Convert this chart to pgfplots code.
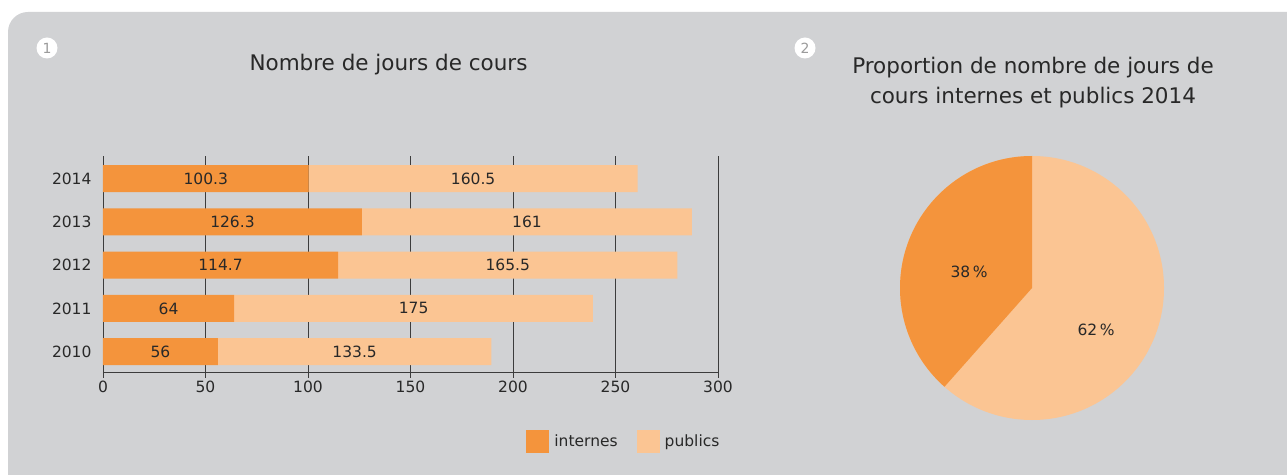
\documentclass[border=0pt]{standalone}
\usepackage{pgfplots}
\pgfplotsset{compat=1.18}
\usepackage{fontspec}
\setmainfont{DejaVu Sans}
\definecolor{bg}{RGB}{209,210,212}
\definecolor{internes}{RGB}{244,148,60}
\definecolor{publics}{RGB}{251,197,147}
\definecolor{txt}{RGB}{40,40,40}
\definecolor{gridc}{RGB}{60,60,60}
\definecolor{badge}{RGB}{155,155,155}
\begin{document}
\begin{tikzpicture}
\useasboundingbox (0pt,0pt) rectangle (1287pt,474pt);
\fill[white] (0pt,0pt) rectangle (1287pt,474pt);
\begin{scope}
\clip (0pt,0pt) rectangle (1287pt,474pt);
\fill[bg, rounded corners=20pt] (8pt,-40pt) rectangle (1340pt,462pt);
\end{scope}
% badges
\fill[white] (47pt,426pt) circle (10.5pt);
\node[text=badge, font=\fontsize{14}{16}\selectfont] at (47pt,426pt) {1};
\fill[white] (805pt,426pt) circle (10.5pt);
\node[text=badge, font=\fontsize{14}{16}\selectfont] at (805pt,426pt) {2};
% titles
\node[text=txt, font=\fontsize{21.5}{25}\selectfont] at (388.5pt,409pt) {Nombre de jours de cours};
\node[text=txt, font=\fontsize{21.5}{30}\selectfont, align=center] at (1033pt,391pt) {Proportion de nombre de jours de\\cours internes et publics 2014};

\begin{axis}[
 at={(103pt,101.5pt)}, anchor=south west,
 scale only axis, width=615pt, height=216.5pt,
 xbar stacked, bar width=27pt,
 xmin=0, xmax=300, ymin=-0.48, ymax=4.52,
 ytick={0,1,2,3,4}, yticklabels={2010,2011,2012,2013,2014},
 xtick={0,50,...,300},
 axis x line=bottom, axis y line=left,
 axis line style={gridc, line width=0.9pt, -},
 xmajorgrids, major grid style={gridc, line width=0.8pt},
 tick align=outside, major tick length=5pt,
 ytick style={draw=none}, xtick style={gridc, line width=0.8pt},
 tick label style={font=\fontsize{15.5}{18}\selectfont, text=txt},
 yticklabel style={xshift=-3pt},
 /pgf/number format/assume math mode=true,
 legend style={at={(0.847,-0.319)}, anchor=center, draw=none, fill=none,
   legend columns=-1, font=\fontsize{15.5}{18}\selectfont, text=txt,
   /tikz/every even column/.append style={column sep=17pt},
   /tikz/every odd column/.append style={column sep=3pt}},
]
\addplot[fill=internes, draw=none,
  legend image code/.code={\fill[internes] (0pt,-11.5pt) rectangle (23pt,11.5pt);}]
  coordinates {(56,0) (64,1) (114.7,2) (126.3,3) (100.3,4)};
\addplot[fill=publics, draw=none,
  legend image code/.code={\fill[publics] (0pt,-11.5pt) rectangle (23pt,11.5pt);}]
  coordinates {(133.5,0) (175,1) (165.5,2) (161,3) (160.5,4)};
\legend{internes, publics}
\end{axis}

\begin{axis}[
 at={(103pt,101.5pt)}, anchor=south west,
 scale only axis, width=615pt, height=216.5pt,
 xmin=0, xmax=300, ymin=-0.48, ymax=4.52, hide axis,
]
\addplot[draw=none, nodes near coords, point meta=explicit symbolic,
  every node near coord/.style={anchor=center, font=\fontsize{15.5}{18}\selectfont, text=txt}]
  coordinates {(28,0)[56] (32,1)[64] (57.35,2)[114.7] (63.15,3)[126.3] (50.15,4)[100.3]
   (122.75,0)[133.5] (151.5,1)[175] (197.45,2)[165.5] (206.8,3)[161] (180.55,4)[160.5]};
\end{axis}

% pie
\begin{axis}[
 at={(900pt,54pt)}, anchor=south west,
 scale only axis, width=264pt, height=264pt,
 xmin=-1, xmax=1, ymin=-1, ymax=1, hide axis, clip=false,
]
\pgfmathsetmacro{\endang}{90+100.3/(100.3+160.5)*360}
\fill[publics] (axis cs:0,0) circle[radius=132pt];
\fill[internes] (axis cs:0,0) -- (axis cs:0,1) arc[start angle=90, end angle=\endang, radius=132pt] -- cycle;
\node[text=txt, font=\fontsize{15.5}{18}\selectfont] at (axis cs:-0.477,0.121) {38\,\%};
\node[text=txt, font=\fontsize{15.5}{18}\selectfont] at (axis cs:0.485,-0.318) {62\,\%};
\end{axis}
\end{tikzpicture}
\end{document}
